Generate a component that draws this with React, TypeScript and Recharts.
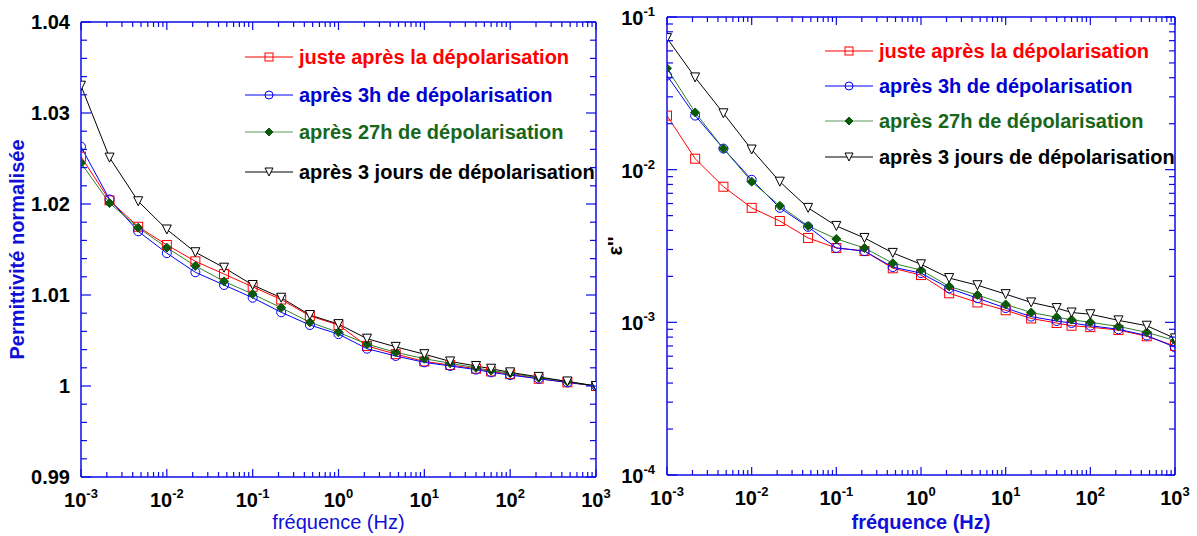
import React from 'react';
import { LineChart, Line, XAxis, YAxis, Legend } from 'recharts';

// fréquences mesurées (Hz)
const freq = [0.001, 0.00215, 0.00464, 0.01, 0.0215, 0.0464, 0.1, 0.215, 0.464, 1, 2.15, 4.64, 10, 20, 40, 60, 100, 215, 464, 1000];

// permittivité normalisée (graphe de gauche)
const permJuste = [1.0252, 1.0204, 1.0175, 1.0155, 1.0137, 1.0123, 1.0109, 1.0095, 1.0077, 1.0067, 1.0044, 1.0035, 1.0027, 1.0023, 1.0019, 1.0016, 1.0013, 1.0008, 1.0004, 1.0];
const perm3h = [1.0263, 1.0205, 1.017, 1.0146, 1.0125, 1.0111, 1.0097, 1.0081, 1.0067, 1.0057, 1.0041, 1.0033, 1.0026, 1.0022, 1.0018, 1.0015, 1.0012, 1.0008, 1.0004, 1.0];
const perm27h = [1.0245, 1.0201, 1.0174, 1.0152, 1.0132, 1.0115, 1.0101, 1.0086, 1.007, 1.0059, 1.0046, 1.0037, 1.003, 1.0025, 1.002, 1.0017, 1.0014, 1.0009, 1.0005, 1.0];
const perm3j = [1.033, 1.0251, 1.0203, 1.0172, 1.0147, 1.013, 1.0111, 1.0097, 1.0078, 1.0068, 1.0052, 1.0043, 1.0035, 1.0027, 1.0022, 1.0019, 1.0015, 1.001, 1.0005, 1.0];

// pertes diélectriques epsilon'' (graphe de droite)
const lossJuste = [0.0226, 0.0118, 0.00773, 0.00562, 0.00461, 0.00357, 0.00307, 0.00293, 0.00226, 0.00204, 0.00155, 0.00135, 0.0012, 0.00106, 0.00099, 0.00095, 0.00093, 0.00089, 0.00081, 0.0007];
const loss3h = [0.0414, 0.0226, 0.01374, 0.00859, 0.00562, 0.00422, 0.00307, 0.00293, 0.0023, 0.0021, 0.00167, 0.00144, 0.00124, 0.00109, 0.00102, 0.00099, 0.00095, 0.0009, 0.00082, 0.000686];
const loss27h = [0.0461, 0.0237, 0.01374, 0.00834, 0.0058, 0.00428, 0.00352, 0.00307, 0.00244, 0.0022, 0.00172, 0.00151, 0.00131, 0.00116, 0.00108, 0.00104, 0.001, 0.00094, 0.00086, 0.00076];
const loss3j = [0.0727, 0.0402, 0.0234, 0.01355, 0.00834, 0.00562, 0.00428, 0.00357, 0.00285, 0.0024, 0.00195, 0.00175, 0.00153, 0.00135, 0.00124, 0.00116, 0.00113, 0.00103, 0.00095, 0.000785];

const serieNames = ['juste après la dépolarisation', 'après 3h de dépolarisation', 'après 27h de dépolarisation', 'après 3 jours de dépolarisation'];
const serieKeys = ['juste', 'h3', 'h27', 'j3'];

// graduations
const xDecades = [-3, -2, -1, 0, 1, 2, 3];
const lossDecades = [-4, -3, -2, -1];
const minorSteps = [2, 3, 4, 5, 6, 7, 8, 9];
const permTicks = [0.99, 0.992, 0.994, 0.996, 0.998, 1, 1.002, 1.004, 1.006, 1.008, 1.01, 1.012, 1.014, 1.016, 1.018, 1.02, 1.022, 1.024, 1.026, 1.028, 1.03, 1.032, 1.034, 1.036, 1.038, 1.04];

const FONT = '"Liberation Sans", Arial, Helvetica, sans-serif';
const AXIS = '#0b0be6';
const RED = '#ff0000';
const BLUE = '#0000ff';
const GREEN = '#2f7f2f';
const DKGREEN = '#0b5a0b';
const LINECOL = [RED, BLUE, GREEN, '#000000'];
const TEXTCOL = [RED, '#0000d0', '#17661a', '#000000'];

const logTicks = (decs: number[]) =>
  decs.flatMap((d, i) =>
    i === decs.length - 1
      ? [Math.pow(10, d)]
      : [Math.pow(10, d), ...minorSteps.map((k) => Number((k * Math.pow(10, d)).toPrecision(3)))]
  );

const isDecade = (v: number) => Math.abs(Math.log10(v) - Math.round(Math.log10(v))) < 1e-6;
const isPermMajor = (v: number) => Math.abs(v * 100 - Math.round(v * 100)) < 1e-6;

const permData = freq.map((f, i) => ({ f, juste: permJuste[i], h3: perm3h[i], h27: perm27h[i], j3: perm3j[i] }));
const lossData = freq.map((f, i) => ({ f, juste: lossJuste[i], h3: loss3h[i], h27: loss27h[i], j3: loss3j[i] }));

function Marker({ kind, cx, cy, s = 4.5 }: { kind: number; cx: number; cy: number; s?: number }) {
  if (kind === 0) return <rect x={cx - s} y={cy - s} width={2 * s} height={2 * s} fill="none" stroke={RED} strokeWidth={1} />;
  if (kind === 1) return <circle cx={cx} cy={cy} r={s} fill="none" stroke={BLUE} strokeWidth={1} />;
  if (kind === 2)
    return <polygon points={`${cx},${cy - s} ${cx + s},${cy} ${cx},${cy + s} ${cx - s},${cy}`} fill={DKGREEN} stroke={DKGREEN} strokeWidth={1} />;
  return <polygon points={`${cx - s},${cy - s} ${cx + s},${cy - s} ${cx},${cy + s}`} fill="#fff" stroke="#000" strokeWidth={1} />;
}

function Pow10({ x, y, v, anchor }: { x: number; y: number; v: number; anchor: string }) {
  return (
    <text x={x} y={y} textAnchor={anchor} fontFamily={FONT} fontWeight="bold" fontSize={20} fill="#000">
      10<tspan dy={-9} fontSize={13}>{String(Math.round(Math.log10(v)))}</tspan>
    </text>
  );
}

// graduation de l'axe x (en bas avec libellé, en haut sans)
function xTick(side: 'bottom' | 'top') {
  return (p: any) => {
    const v = p.payload.value;
    const major = isDecade(v);
    const len = major ? 8 : 5;
    const dir = side === 'bottom' ? -1 : 1;
    return (
      <g key={`${side}-${p.index}`}>
        <line x1={p.x} y1={p.y} x2={p.x} y2={p.y + dir * len} stroke={AXIS} strokeWidth={1.2} />
        {side === 'bottom' && major && <Pow10 x={p.x} y={p.y + 30} v={v} anchor="middle" />}
      </g>
    );
  };
}

function yTick(side: 'left' | 'right', log: boolean) {
  return (p: any) => {
    const v = p.payload.value;
    const major = log ? isDecade(v) : isPermMajor(v);
    const len = major ? 10 : 6;
    const dir = side === 'left' ? 1 : -1;
    return (
      <g key={`${side}-${p.index}`}>
        <line x1={p.x} y1={p.y} x2={p.x + dir * len} y2={p.y} stroke={AXIS} strokeWidth={1.2} />
        {side === 'left' && major &&
          (log ? (
            <Pow10 x={p.x - 12} y={p.y + 8} v={v} anchor="end" />
          ) : (
            <text x={p.x - 11} y={p.y + 7} textAnchor="end" fontFamily={FONT} fontWeight="bold" fontSize={20} fill="#000">
              {String(v)}
            </text>
          ))}
      </g>
    );
  };
}

function LegendBox({ rows }: { rows: number[] }) {
  return (
    <svg width={370} height={150} style={{ overflow: 'visible' }}>
      {serieNames.map((name, i) => (
        <g key={name}>
          <line x1={5} y1={rows[i]} x2={53} y2={rows[i]} stroke={i === 2 ? '#5f9a5f' : LINECOL[i]} strokeWidth={1.2} />
          <Marker kind={i} cx={29} cy={rows[i]} s={4} />
          <text x={59} y={rows[i] + 7} fontFamily={FONT} fontWeight="bold" fontSize={20} fill={TEXTCOL[i]}>
            {name}
          </text>
        </g>
      ))}
    </svg>
  );
}

function series() {
  return serieKeys.map((k, i) => (
    <Line
      key={k}
      xAxisId="b"
      yAxisId="l"
      dataKey={k}
      stroke={LINECOL[i]}
      strokeWidth={1}
      isAnimationActive={false}
      activeDot={false}
      dot={(p: any) => <Marker key={`${k}-${p.index}`} kind={i} cx={p.cx} cy={p.cy} />}
    />
  ));
}

const xTickList = logTicks(xDecades);
const lossTickList = logTicks(lossDecades);

export default function App() {
  return (
    <div style={{ position: 'absolute', left: 0, top: 0, width: 1197, height: 536, background: '#fff' }}>
      <div style={{ position: 'absolute', left: 0, top: 0 }}>
        <LineChart width={620} height={536} data={permData} margin={{ top: 21, right: 23, bottom: 58, left: 80 }}>
          <XAxis
            xAxisId="b"
            dataKey="f"
            type="number"
            scale="log"
            domain={[0.001, 1000]}
            allowDataOverflow
            ticks={xTickList}
            interval={0}
            height={1}
            tickSize={0}
            tickMargin={0}
            tickLine={false}
            axisLine={{ stroke: AXIS, strokeWidth: 1.5 }}
            tick={xTick('bottom')}
            label={{
              content: (p: any) => {
                const vb = p.viewBox || { x: 81, y: 477, width: 515 };
                return (
                  <text x={vb.x + vb.width / 2} y={vb.y + 52} textAnchor="middle" fontFamily={FONT} fontSize={20} fill="#1010d8">
                    fréquence (Hz)
                  </text>
                );
              },
            }}
          />
          <XAxis
            xAxisId="t"
            orientation="top"
            dataKey="f"
            type="number"
            scale="log"
            domain={[0.001, 1000]}
            allowDataOverflow
            ticks={xTickList}
            interval={0}
            height={1}
            tickSize={0}
            tickMargin={0}
            tickLine={false}
            axisLine={{ stroke: AXIS, strokeWidth: 1.5 }}
            tick={xTick('top')}
          />
          <YAxis
            yAxisId="l"
            type="number"
            domain={[0.99, 1.04]}
            allowDataOverflow
            ticks={permTicks}
            interval={0}
            width={1}
            tickSize={0}
            tickMargin={0}
            tickLine={false}
            axisLine={{ stroke: AXIS, strokeWidth: 1.5 }}
            tick={yTick('left', false)}
            label={{
              content: (p: any) => {
                const vb = p.viewBox || { x: 80, y: 22, width: 1, height: 455 };
                const cx = vb.x - 56;
                const cy = vb.y + vb.height / 2;
                return (
                  <text x={cx} y={cy} transform={`rotate(-90 ${cx} ${cy})`} textAnchor="middle" fontFamily={FONT} fontWeight="bold" fontSize={20} fill="#1010d8">
                    Permittivité normalisée
                  </text>
                );
              },
            }}
          />
          <YAxis
            yAxisId="r"
            orientation="right"
            type="number"
            domain={[0.99, 1.04]}
            allowDataOverflow
            ticks={permTicks}
            interval={0}
            width={1}
            tickSize={0}
            tickMargin={0}
            tickLine={false}
            axisLine={{ stroke: AXIS, strokeWidth: 1.5 }}
            tick={yTick('right', false)}
          />
          {series()}
          <Legend
            layout="horizontal"
            verticalAlign="middle"
            align="center"
            wrapperStyle={{ left: 240, top: 40, width: 370, height: 150 }}
            content={() => <LegendBox rows={[17, 55, 92, 132]} />}
          />
        </LineChart>
      </div>

      <div style={{ position: 'absolute', left: 600, top: 0 }}>
        <LineChart width={597} height={536} data={lossData} margin={{ top: 16, right: 21, bottom: 60, left: 66 }}>
          <XAxis
            xAxisId="b"
            dataKey="f"
            type="number"
            scale="log"
            domain={[0.001, 1000]}
            allowDataOverflow
            ticks={xTickList}
            interval={0}
            height={1}
            tickSize={0}
            tickMargin={0}
            tickLine={false}
            axisLine={{ stroke: AXIS, strokeWidth: 1.5 }}
            tick={xTick('bottom')}
            label={{
              content: (p: any) => {
                const vb = p.viewBox || { x: 67, y: 475, width: 508 };
                return (
                  <text x={vb.x + vb.width / 2} y={vb.y + 54} textAnchor="middle" fontFamily={FONT} fontWeight="bold" fontSize={20} fill="#1010d8">
                    fréquence (Hz)
                  </text>
                );
              },
            }}
          />
          <XAxis
            xAxisId="t"
            orientation="top"
            dataKey="f"
            type="number"
            scale="log"
            domain={[0.001, 1000]}
            allowDataOverflow
            ticks={xTickList}
            interval={0}
            height={1}
            tickSize={0}
            tickMargin={0}
            tickLine={false}
            axisLine={{ stroke: AXIS, strokeWidth: 1.5 }}
            tick={xTick('top')}
          />
          <YAxis
            yAxisId="l"
            type="number"
            scale="log"
            domain={[0.0001, 0.1]}
            allowDataOverflow
            ticks={lossTickList}
            interval={0}
            width={1}
            tickSize={0}
            tickMargin={0}
            tickLine={false}
            axisLine={{ stroke: AXIS, strokeWidth: 1.5 }}
            tick={yTick('left', true)}
            label={{
              content: (p: any) => {
                const vb = p.viewBox || { x: 66, y: 17, width: 1, height: 458 };
                const cx = vb.x - 44;
                const cy = vb.y + vb.height / 2;
                return (
                  <text x={cx} y={cy} transform={`rotate(-90 ${cx} ${cy})`} textAnchor="middle" fontFamily={FONT} fontWeight="bold" fontSize={20} fill="#000">
                    ε''
                  </text>
                );
              },
            }}
          />
          <YAxis
            yAxisId="r"
            orientation="right"
            type="number"
            scale="log"
            domain={[0.0001, 0.1]}
            allowDataOverflow
            ticks={lossTickList}
            interval={0}
            width={1}
            tickSize={0}
            tickMargin={0}
            tickLine={false}
            axisLine={{ stroke: AXIS, strokeWidth: 1.5 }}
            tick={yTick('right', true)}
          />
          {series()}
          <Legend
            layout="horizontal"
            verticalAlign="middle"
            align="center"
            wrapperStyle={{ left: 220, top: 34, width: 370, height: 150 }}
            content={() => <LegendBox rows={[17, 52, 87, 123]} />}
          />
        </LineChart>
      </div>
    </div>
  );
}
